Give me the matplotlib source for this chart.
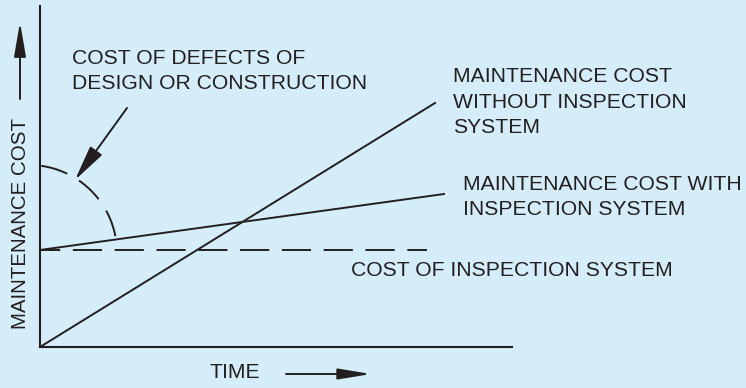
import numpy as np
import matplotlib
matplotlib.use("Agg")
import matplotlib.pyplot as plt

# values are in "drawing units" (1 unit ~ 1 px), origin at the axes corner
time_end = [395, 404]              # end of each cost line
cost_without = [0, 244]            # maintenance cost without inspection
cost_with = [97, 153]              # maintenance cost with inspection
inspection_cost = 97               # flat cost of the inspection system
inspection_end = 387
# dashed arc marking cost of defects (centre, radius, start/end angle deg)
arc_centre = (-11, 94)
arc_radius = 88
arc_angles = (82, 9)

bg = "#d5ecf9"
ink = "#231f20"
plt.rcParams["font.family"] = ["Liberation Sans", "DejaVu Sans"]

fig = plt.figure(figsize=(7.46, 3.88), dpi=100, facecolor=bg)
ax = fig.add_axes([40 / 746, 41 / 388, 472 / 746, 341 / 388])
ax.set_facecolor(bg)
ax.set_xlim(0, 472)
ax.set_ylim(0, 341)
for s in ["top", "right"]:
    ax.spines[s].set_visible(False)
for s in ["left", "bottom"]:
    ax.spines[s].set_color(ink)
    ax.spines[s].set_linewidth(1.5)
ax.set_xticks([])
ax.set_yticks([])

lw = 1.4
ax.plot([0, time_end[0]], cost_without, color=ink, lw=lw, clip_on=False)
ax.plot([0, time_end[1]], cost_with, color=ink, lw=lw, clip_on=False)
ax.plot([0, inspection_end], [inspection_cost, inspection_cost], color=ink,
        lw=lw, linestyle=(4.6, (15, 6.5)), clip_on=False)

t = np.radians(np.linspace(arc_angles[0], arc_angles[1], 60))
ax.plot(arc_centre[0] + arc_radius * np.cos(t), arc_centre[1] + arc_radius * np.sin(t),
        color=ink, lw=lw, linestyle=(0, (14, 7)), clip_on=False)


def arrow(tail, tip, hl, hw):
    ax.annotate("", xy=tip, xytext=tail, annotation_clip=False,
                arrowprops=dict(arrowstyle="-|>,head_length=%g,head_width=%g" % (hl, hw),
                                mutation_scale=1, color=ink, lw=lw,
                                shrinkA=0, shrinkB=0))


arrow((87, 239), (35, 167), 22, 4.5)   # defects pointer
arrow((-20, 248), (-20, 325), 21, 3.6)  # y direction
arrow((246, -27), (331, -27), 20, 3.3)  # time direction

fs = 15.2
txt = dict(color=ink, fontsize=fs, linespacing=1.45)
fig.text(72 / 746, 1 - 71 / 388, "COST OF DEFECTS OF\nDESIGN OR CONSTRUCTION",
         ha="left", va="center", **txt)
fig.text(453 / 746, 1 - 102 / 388, "MAINTENANCE COST\nWITHOUT INSPECTION\nSYSTEM",
         ha="left", va="center", **txt)
fig.text(463 / 746, 1 - 197 / 388, "MAINTENANCE COST WITH\nINSPECTION SYSTEM",
         ha="left", va="center", **txt)
fig.text(351 / 746, 1 - 270 / 388, "COST OF INSPECTION SYSTEM",
         ha="left", va="center", **txt)
fig.text(209 / 746, 1 - 373 / 388, "TIME", ha="left", va="center", **txt)
fig.text(21 / 746, 1 - 223 / 388, "MAINTENANCE COST", rotation=90,
         ha="center", va="center", color=ink, fontsize=14.8)

fig.savefig("out.png", dpi=100, facecolor=bg)
